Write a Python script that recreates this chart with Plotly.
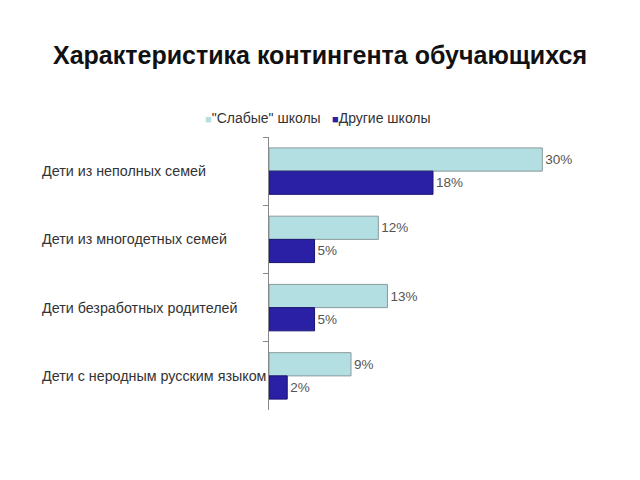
import plotly.graph_objects as go

categories = ["Дети из неполных семей", "Дети из многодетных семей",
              "Дети безработных родителей", "Дети с неродным русским языком"]
weak = [30, 12, 13, 9]
other = [18, 5, 5, 2]
series_names = ['"Слабые" школы', "Другие школы"]
colors = ["#b3dfe2", "#2a20a6"]
edges = ["#8a9a9c", "#1a1470"]

W, H = 640, 480
ML, MR, MT, MB = 269, 43, 137, 70
PW, PH = W - ML - MR, H - MT - MB


def px_x(px):
    return (px - ML) / PW


def px_y(py):
    return (H - MB - py) / PH


fig = go.Figure()
for name, vals, col, edge in zip(series_names, [weak, other], colors, edges):
    fig.add_trace(go.Bar(y=categories, x=vals, orientation="h", name=name,
                         marker=dict(color=col, line=dict(color=edge, width=1)),
                         text=[f"{v}%" for v in vals], textposition="outside",
                         textfont=dict(color="#555555", size=13.5), cliponaxis=False))

for c in categories:
    fig.add_annotation(x=px_x(40), xref="paper", y=c, yref="y", text=c, showarrow=False,
                       xanchor="left", font=dict(size=14.3, color="#333333"))

# legend drawn as text
legend_x = [203, 330]
for name, col, lx in zip(series_names, colors, legend_x):
    fig.add_annotation(x=px_x(lx), xref="paper", y=px_y(118), yref="paper",
                       text=f'<span style="color:{col};font-size:11px">■</span>{name}',
                       showarrow=False, xanchor="left", yanchor="middle",
                       font=dict(size=14, color="#333333"))

fig.update_layout(
    width=W, height=H,
    margin=dict(l=ML, r=MR, t=MT, b=MB, autoexpand=False),
    paper_bgcolor="white", plot_bgcolor="white",
    font=dict(family="Liberation Sans, Arial, sans-serif", color="#333333"),
    title=dict(text="<b>Характеристика контингента обучающихся</b>", x=0.5, xref="container",
               xanchor="center", y=1 - 55 / H, yref="container", yanchor="middle",
               font=dict(size=25, color="#111111")),
    barmode="group", bargap=0.32, bargroupgap=0.0,
    showlegend=False,
    xaxis=dict(range=[0, 36], visible=False),
    yaxis=dict(autorange="reversed", showticklabels=False, showline=True,
               linecolor="#888888", linewidth=1, ticks="outside", tickson="boundaries",
               ticklen=5, tickcolor="#888888", showgrid=False),
)

fig.write_html("out.html")
